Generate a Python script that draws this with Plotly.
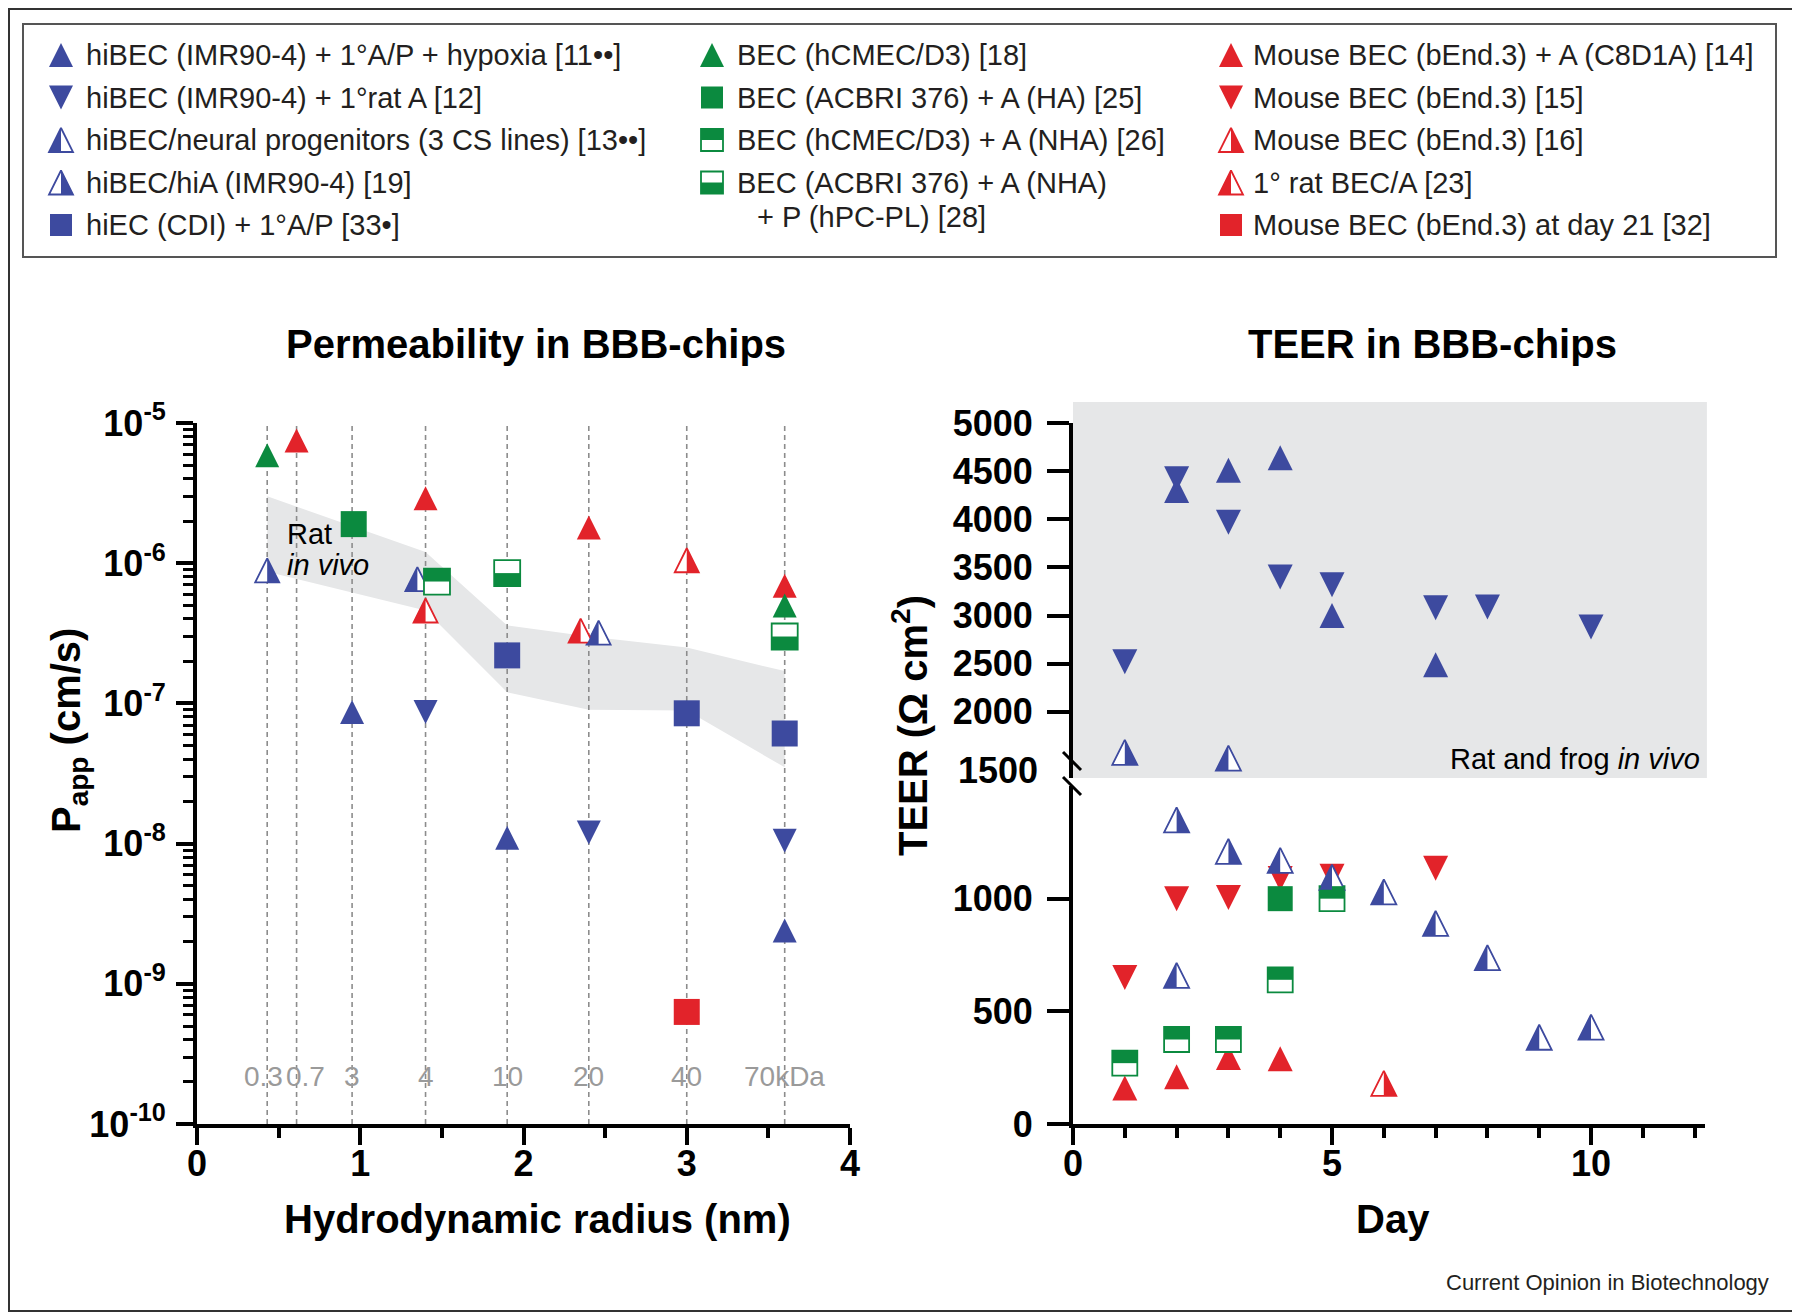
import plotly.graph_objects as go

W, H = 1800, 1312
OFF = 8  # page offset of the plot div (body margin); layout below is in screen pixels
FONT = "Liberation Sans, Arial, Helvetica, sans-serif"
BLUE, GREEN, RED = "#3d4a9f", "#0b8a3f", "#e2232a"
BAND_COLOR = "#e6e7e8"

# ---------------- DATA ----------------
# Permeability chart: tracer hydrodynamic radius (nm) and molecular weight labels
tracer_radius = [0.43, 0.61, 0.95, 1.40, 1.90, 2.40, 3.00, 3.60]
tracer_kda = ["0.3", "0.7", "3", "4", "10", "20", "40", "70kDa"]

# Rat in vivo band
invivo_radius = [0.43, 1.40, 1.90, 2.40, 3.00, 3.60]
invivo_upper = [3.0e-6, 1.2e-6, 3.6e-7, 3.0e-7, 2.5e-7, 1.7e-7]
invivo_lower = [8.7e-7, 4.6e-7, 1.2e-7, 9.0e-8, 8.9e-8, 3.5e-8]

# Papp (cm/s) by model: radius (nm), value
p11_r = [0.95, 1.90, 3.60]; p11_v = [8.7e-8, 1.1e-8, 2.4e-9]
p12_r = [1.40, 2.40, 3.60]; p12_v = [8.7e-8, 1.2e-8, 1.05e-8]
p13_r = [1.35, 2.46]; p13_v = [7.7e-7, 3.2e-7]
p19_r = [0.43]; p19_v = [8.9e-7]
p33_r = [1.90, 3.00, 3.60]; p33_v = [2.2e-7, 8.5e-8, 6.1e-8]
p18_r = [0.43, 3.60]; p18_v = [5.9e-6, 5.0e-7]
p25_r = [0.96]; p25_v = [1.9e-6]
p26_r = [1.47]; p26_v = [7.4e-7]
p28_r = [1.90, 3.60]; p28_v = [8.5e-7, 3.0e-7]
p14_r = [0.61, 1.40, 2.40, 3.60]; p14_v = [7.5e-6, 2.9e-6, 1.8e-6, 6.9e-7]
p15_r = []; p15_v = []
p16_r = [3.00]; p16_v = [1.05e-6]
p23_r = [1.40, 2.35]; p23_v = [4.6e-7, 3.3e-7]
p32_r = [3.00]; p32_v = [6.3e-10]

# TEER (ohm cm2) by model: day, value
t11_d = [2, 3, 4, 5, 7]; t11_v = [4300, 4510, 4640, 3000, 2490]
t12_d = [1, 2, 3, 4, 5, 7, 8, 10]; t12_v = [2520, 4420, 3970, 3400, 3320, 3080, 3090, 2880]
t13_d = [3, 2, 4, 5, 6, 7, 8, 9, 10]; t13_v = [1520, 660, 1170, 1095, 1030, 890, 738, 385, 430]
t19_d = [1, 2, 3]; t19_v = [1580, 1350, 1210]
t33_d = []; t33_v = []
t18_d = []; t18_v = []
t25_d = [4]; t25_v = [1000]
t26_d = [1, 2, 3, 4, 5]; t26_v = [270, 375, 375, 640, 1000]
t28_d = []; t28_v = []
t14_d = [1, 2, 3, 4]; t14_v = [160, 210, 295, 290]
t15_d = [1, 2, 3, 4, 5, 7]; t15_v = [650, 1000, 1005, 1090, 1100, 1135]
t16_d = [6]; t16_v = [180]
t23_d = []; t23_v = []
t32_d = []; t32_v = []

TEER_BREAK = 1500

# legend label, glyph, color, legend column, perm data, teer data
series = [
    ("hiBEC (IMR90-4) + 1°A/P + hypoxia [11••]", "up", BLUE, 0, p11_r, p11_v, t11_d, t11_v),
    ("hiBEC (IMR90-4) + 1°rat A [12]", "down", BLUE, 0, p12_r, p12_v, t12_d, t12_v),
    ("hiBEC/neural progenitors (3 CS lines) [13••]", "halfL", BLUE, 0, p13_r, p13_v, t13_d, t13_v),
    ("hiBEC/hiA (IMR90-4) [19]", "halfR", BLUE, 0, p19_r, p19_v, t19_d, t19_v),
    ("hiEC (CDI) + 1°A/P [33•]", "square", BLUE, 0, p33_r, p33_v, t33_d, t33_v),
    ("BEC (hCMEC/D3) [18]", "up", GREEN, 1, p18_r, p18_v, t18_d, t18_v),
    ("BEC (ACBRI 376) + A (HA) [25]", "square", GREEN, 1, p25_r, p25_v, t25_d, t25_v),
    ("BEC (hCMEC/D3) + A (NHA) [26]", "sqTop", GREEN, 1, p26_r, p26_v, t26_d, t26_v),
    ("BEC (ACBRI 376) + A (NHA)\n+ P (hPC-PL) [28]", "sqBot", GREEN, 1, p28_r, p28_v, t28_d, t28_v),
    ("Mouse BEC (bEnd.3) + A (C8D1A) [14]", "up", RED, 2, p14_r, p14_v, t14_d, t14_v),
    ("Mouse BEC (bEnd.3) [15]", "down", RED, 2, p15_r, p15_v, t15_d, t15_v),
    ("Mouse BEC (bEnd.3) [16]", "halfR", RED, 2, p16_r, p16_v, t16_d, t16_v),
    ("1° rat BEC/A [23]", "halfL", RED, 2, p23_r, p23_v, t23_d, t23_v),
    ("Mouse BEC (bEnd.3) at day 21 [32]", "square", RED, 2, p32_r, p32_v, t32_d, t32_v),
]

# ---------------- HELPERS ----------------
fig = go.Figure()
shapes = []
annotations = []


def xdom(left, right):
    return [(left - OFF) / W, (right - OFF) / W]


def ydom(top, bottom):
    return [1 - (bottom - OFF) / H, 1 - (top - OFF) / H]


HALF_PATHS = {
    "halfL": lambda h: f"M{-h},{-h}L0,{-h}L0,{h}Z",
    "halfR": lambda h: f"M0,{-h}L{h},{-h}L0,{h}Z",
    "sqTop": lambda h: f"M{-h},0L{h},0L{h},{h}L{-h},{h}Z",
    "sqBot": lambda h: f"M{-h},0L{h},0L{h},{-h}L{-h},{-h}Z",
}


def add_glyph(kind, color, xs, ys, xa, ya, size):
    if len(xs) == 0:
        return
    filled = kind in ("up", "down", "square")
    if kind in ("up", "down", "halfL", "halfR"):
        marker = dict(symbol="arrow-down", angle=0 if kind == "down" else 180,
                      standoff=size / 2, size=size,
                      color=color if filled else "white",
                      line=dict(color=color, width=0 if filled else 1.8))
    else:
        marker = dict(symbol="square", size=size,
                      color=color if filled else "white",
                      line=dict(color=color, width=0 if filled else 1.8))
    fig.add_trace(go.Scatter(x=xs, y=ys, xaxis=xa, yaxis=ya, mode="markers",
                             marker=marker, cliponaxis=False, hoverinfo="skip",
                             showlegend=False))
    if kind in HALF_PATHS:
        h = size / 2
        for x, y in zip(xs, ys):
            shapes.append(dict(type="path", xref=xa, yref=ya, xsizemode="pixel",
                               ysizemode="pixel", xanchor=x, yanchor=y,
                               path=HALF_PATHS[kind](h), fillcolor=color,
                               line=dict(width=0), layer="above"))


def txt(x, y, s, size, xanchor="center", yanchor="middle", color="black",
        angle=0, xref="x4", yref="y4", xshift=0):
    annotations.append(dict(x=x, y=y, xref=xref, yref=yref, text=s, showarrow=False,
                            font=dict(family=FONT, size=size, color=color),
                            xanchor=xanchor, yanchor=yanchor, textangle=angle,
                            xshift=xshift, align="left"))


# ---------------- PERMEABILITY CHART ----------------
fig.add_trace(go.Scatter(
    x=invivo_radius + invivo_radius[::-1], y=invivo_upper + invivo_lower[::-1],
    xaxis="x", yaxis="y", mode="lines", fill="toself", fillcolor=BAND_COLOR,
    line=dict(width=0), hoverinfo="skip", showlegend=False))

dash_x, dash_y = [], []
for r in tracer_radius:
    dash_x += [r, r, None]
    dash_y += [1e-10, 1e-5, None]
fig.add_trace(go.Scatter(x=dash_x, y=dash_y, xaxis="x", yaxis="y", mode="lines",
                         line=dict(color="#8c8c8c", width=1.6, dash="5px,4px"),
                         hoverinfo="skip", showlegend=False))

kda_shift = [-4, 9, 0, 0, 0, 0, 0, 0]
for r, lab, sh in zip(tracer_radius, tracer_kda, kda_shift):
    txt(r, -9.66, lab, 28, color="#9a9a9a", xref="x", yref="y", xshift=sh)

txt(0.54, -5.79, "Rat", 29, xanchor="left", xref="x", yref="y")
txt(0.54, -6.01, "<i>in vivo</i>", 29, xanchor="left", xref="x", yref="y")

order = [i for i in range(len(series)) if series[i][2] == BLUE] + \
        [i for i in range(len(series)) if series[i][2] == RED] + \
        [i for i in range(len(series)) if series[i][2] == GREEN]

for i in order:
    lab, kind, col, c, pr, pv, td, tv = series[i]
    size = 26 if kind.startswith("sq") or kind == "square" else 24
    add_glyph(kind, col, pr, pv, "x", "y", size)

# ---------------- TEER CHART ----------------
shapes.append(dict(type="rect", xref="x3 domain", yref="y3 domain", x0=0, x1=1.003,
                   y0=0, y1=1.059, fillcolor=BAND_COLOR, line=dict(width=0), layer="below"))

for i in [k for k in range(len(series)) if series[k][2] == RED] + \
         [k for k in range(len(series)) if series[k][2] == GREEN] + \
         [k for k in range(len(series)) if series[k][2] == BLUE]:
    lab, kind, col, c, pr, pv, td, tv = series[i]
    up_d = [d for d, v in zip(td, tv) if v > TEER_BREAK]
    up_v = [v for v in tv if v > TEER_BREAK]
    lo_d = [d for d, v in zip(td, tv) if v <= TEER_BREAK]
    lo_v = [v for v in tv if v <= TEER_BREAK]
    add_glyph(kind, col, lo_d, lo_v, "x2", "y2", 25)
    add_glyph(kind, col, up_d, up_v, "x3", "y3", 25)

txt(1702, 759, "Rat and frog <i>in vivo</i>", 29, xanchor="right")
txt(1040, 770, "<b>1500</b>", 36, xanchor="right")
for (x0, y0, x1, y1) in [(1063, 752, 1081, 770), (1063, 777, 1081, 795)]:
    shapes.append(dict(type="line", xref="x4", yref="y4", x0=x0, y0=y0, x1=x1, y1=y1,
                       line=dict(color="black", width=3)))

# ---------------- TITLES ----------------
txt(536, 344, "<b>Permeability in BBB-chips</b>", 40)
txt(1432, 344, "<b>TEER in BBB-chips</b>", 40)
txt(537, 1219, "<b>Hydrodynamic radius (nm)</b>", 40)
txt(1393, 1219, "<b>Day</b>", 40)
txt(69, 731, "<b>P<sub>app</sub> (cm/s)</b>", 40, angle=-90)
txt(910, 726, "<b>TEER (Ω cm<sup>2</sup>)</b>", 40, angle=-90)
txt(1771, 1282, "Current Opinion in Biotechnology", 22, xanchor="right", color="#231f20")

# ---------------- LEGEND ----------------
col_marker_x = [61, 712, 1231]
col_text_x = [84, 735, 1251]
row_y0, row_dy = 55, 42.5
rows_used = [0, 0, 0]
for lab, kind, col, c, pr, pv, td, tv in series:
    r = rows_used[c]
    rows_used[c] += 1
    y = row_y0 + r * row_dy
    size = 22 if kind.startswith("sq") or kind == "square" else 24
    add_glyph(kind, col, [col_marker_x[c]], [y], "x4", "y4", size)
    lines = lab.split("\n")
    for k, line in enumerate(lines):
        txt(col_text_x[c] + (20 if k else 0), y + k * 34, line, 29, xanchor="left",
            color="#231f20")

shapes.append(dict(type="rect", xref="x4", yref="y4", x0=23, x1=1776, y0=24, y1=257,
                   line=dict(color="#555555", width=2), fillcolor="rgba(0,0,0,0)"))
shapes.append(dict(type="rect", xref="x4", yref="y4", x0=OFF + 1, x1=1799, y0=OFF + 1,
                   y1=1311, line=dict(color="#333333", width=2),
                   fillcolor="rgba(0,0,0,0)"))

# ---------------- AXES ----------------
tickfont = dict(family=FONT, size=36, color="black", weight="bold")
common = dict(showline=True, linecolor="black", linewidth=4, ticks="outside",
              tickcolor="black", tickwidth=4, showgrid=False, zeroline=False,
              tickfont=tickfont, fixedrange=True, automargin=False)

decades = list(range(-10, -4))
log_major = [10.0 ** e for e in decades]
log_text = ["10<sup>%d</sup>" % e for e in decades]
log_minor = [k * 10.0 ** e for e in decades[:-1] for k in range(2, 10)]

hidden = dict(visible=False, fixedrange=True, automargin=False, showgrid=False,
              zeroline=False)

fig.update_layout(
    width=W, height=H,
    margin=dict(l=0, r=0, t=0, b=0, pad=0, autoexpand=False),
    paper_bgcolor="white", plot_bgcolor="rgba(0,0,0,0)",
    font=dict(family=FONT),
    showlegend=False,
    xaxis=dict(domain=xdom(197, 850), range=[0, 4], tick0=0, dtick=1, ticklen=17,
               ticklabelstandoff=-12, anchor="y",
               minor=dict(dtick=0.5, tick0=0, ticks="outside", ticklen=10, tickwidth=4,
                          tickcolor="black"), **common),
    yaxis=dict(domain=ydom(423, 1124), type="log", range=[-10, -5],
               tickmode="array", tickvals=log_major, ticktext=log_text, ticklen=17,
               ticklabelstandoff=3, anchor="x",
               minor=dict(tickmode="array", tickvals=log_minor, ticks="outside",
                          ticklen=10, tickwidth=3, tickcolor="black"), **common),
    xaxis2=dict(domain=xdom(1073, 1705), range=[0, 12.2], tick0=0, dtick=5,
                ticklen=17, ticklabelstandoff=-12, anchor="y2",
                minor=dict(dtick=1, tick0=0, ticks="outside", ticklen=10, tickwidth=4,
                           tickcolor="black"), **common),
    yaxis2=dict(domain=ydom(786, 1124), range=[0, 1500],
                tickmode="array", tickvals=[0, 500, 1000], ticklen=22,
                ticklabelstandoff=7, anchor="x2", **common),
    xaxis3=dict(domain=xdom(1073, 1705), range=[0, 12.2], anchor="y3", **hidden),
    yaxis3=dict(domain=ydom(423, 778), range=[1313, 5000],
                tickmode="array", tickvals=[2000, 2500, 3000, 3500, 4000, 4500, 5000],
                ticklen=22, ticklabelstandoff=7, anchor="x3", **common),
    xaxis4=dict(domain=[0, 1], range=[OFF, W + OFF], anchor="y4", **hidden),
    yaxis4=dict(domain=[0, 1], range=[H + OFF, OFF], anchor="x4", **hidden),
    shapes=shapes,
    annotations=annotations,
)

fig.write_html("out.html")
